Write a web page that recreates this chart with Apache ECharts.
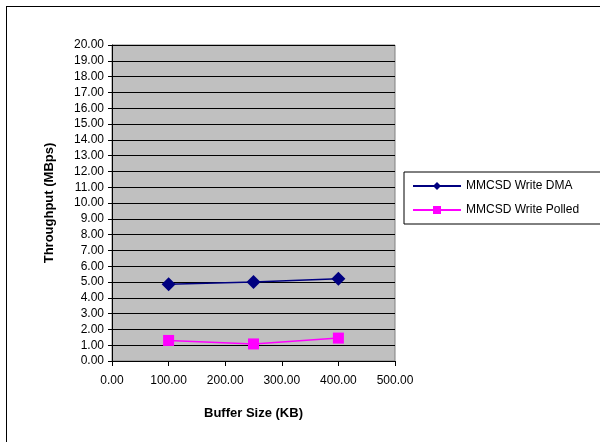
<!DOCTYPE html>
<html><head><meta charset="utf-8">
<script src="https://cdn.jsdelivr.net/npm/echarts@6/dist/echarts.min.js"></script>
<style>html,body{margin:0;padding:0;background:#fff}#c{width:600px;height:442px}</style>
</head><body><div id="c"></div>
<script>
const bufferSizes = [100, 250, 400];
const dmaValues = [4.85, 5.0, 5.2];
const polledValues = [1.3, 1.08, 1.45];
const seriesNames = ['MMCSD Write DMA', 'MMCSD Write Polled'];
const xTitle = 'Buffer Size (KB)';
const yTitle = 'Throughput (MBps)';

const chart = echarts.init(document.getElementById('c'), null, {renderer: 'canvas'});
const font = 'Arial, "Liberation Sans", sans-serif';
chart.setOption({
  animation: false,
  backgroundColor: '#fff',
  graphic: [
    {type: 'line', shape: {x1: 6, y1: 6.5, x2: 600, y2: 6.5}, style: {stroke: '#000', lineWidth: 1}},
    {type: 'line', shape: {x1: 6.5, y1: 6, x2: 6.5, y2: 442}, style: {stroke: '#000', lineWidth: 1}}
  ],
  grid: {left: 112, top: 45, right: 205, bottom: 81, show: true, backgroundColor: '#C0C0C0', borderColor: '#808080', borderWidth: 1},
  legend: {
    orient: 'vertical', left: 404, top: 172,
    data: seriesNames,
    itemWidth: 48, itemHeight: 10, itemGap: 12,
    borderColor: '#000', borderWidth: 1,
    padding: [8, 30, 8, 8],
    textStyle: {fontFamily: font, fontSize: 12, color: '#000'}
  },
  xAxis: {
    type: 'value', min: 0, max: 500, interval: 100,
    name: xTitle, nameLocation: 'middle', nameGap: 46,
    nameTextStyle: {fontFamily: font, fontSize: 13, fontWeight: 'bold', color: '#000'},
    axisLine: {show: true, lineStyle: {color: '#000'}},
    axisTick: {show: true, length: 5, lineStyle: {color: '#000'}},
    axisLabel: {fontFamily: font, fontSize: 12, color: '#000', margin: 14, formatter: v => v.toFixed(2)},
    splitLine: {show: false}
  },
  yAxis: {
    type: 'value', min: 0, max: 20, interval: 1,
    name: yTitle, nameLocation: 'middle', nameGap: 56,
    nameTextStyle: {fontFamily: font, fontSize: 13, fontWeight: 'bold', color: '#000'},
    axisLine: {show: true, lineStyle: {color: '#000'}},
    axisTick: {show: true, length: 4, lineStyle: {color: '#000'}},
    axisLabel: {fontFamily: font, fontSize: 12, color: '#000', margin: 8, formatter: v => v.toFixed(2)},
    splitLine: {show: true, lineStyle: {color: '#000', width: 1}}
  },
  series: [
    {name: seriesNames[0], type: 'line', data: bufferSizes.map((x, i) => [x, dmaValues[i]]),
     color: '#000080', symbol: 'diamond', symbolSize: 14, lineStyle: {width: 1.5, color: '#000080'},
     itemStyle: {color: '#000080'}},
    {name: seriesNames[1], type: 'line', data: bufferSizes.map((x, i) => [x, polledValues[i]]),
     color: '#FF00FF', symbol: 'rect', symbolSize: 11, lineStyle: {width: 1.5, color: '#FF00FF'},
     itemStyle: {color: '#FF00FF'}}
  ]
});
</script></body></html>
